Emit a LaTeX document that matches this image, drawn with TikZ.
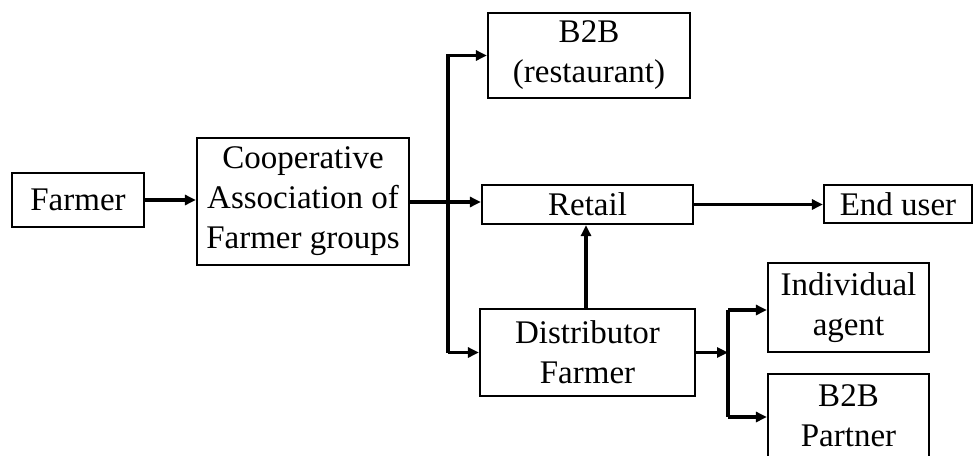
\documentclass[tikz,border=0pt]{standalone}
\usepackage{fontspec}
\setmainfont{Liberation Serif}
\usetikzlibrary{arrows.meta}
\tikzset{
  box/.style={draw=black, line width=2.2pt, rectangle, inner sep=0pt, align=center,
    font=\fontsize{33}{40}\selectfont},
  arr/.style={line width=3.4pt, -{Triangle[length=11pt,width=10pt]}},
  seg/.style={line width=3.4pt}
}
\begin{document}
\begin{tikzpicture}[x=1pt, y=-1pt]
  \useasboundingbox (0,0) rectangle (974,455);
  \begin{scope}
    \clip (0,0) rectangle (974,455);
    % boxes
    \node[box, minimum width=132pt, minimum height=54pt] (farmer) at (78,200) {Farmer};
    \node[box, minimum width=212pt, minimum height=127pt] (coop) at (303,201.5) {Cooperative\\Association of\\Farmer groups};
    \node[box, minimum width=202pt, minimum height=85pt] (b2b) at (589,55.5) {B2B\\(restaurant)};
    \node[box, minimum width=211pt, minimum height=39pt] (retail) at (587.5,204.5) {Retail};
    \node[box, minimum width=148pt, minimum height=38pt] (enduser) at (898,204) {End user};
    \node[box, minimum width=215pt, minimum height=87pt] (dist) at (587.5,352.5) {Distributor\\Farmer};
    \node[box, minimum width=161pt, minimum height=89pt] (indiv) at (848.5,307.5) {Individual\\agent};
    \node[box, minimum width=161pt, minimum height=84pt] (partner) at (848.5,416) {B2B\\Partner};

    % junction points
    \coordinate (trunk) at (448,0);
    \coordinate (fork) at (728,0);
    \coordinate (coopout) at ([yshift=-0.5pt]coop.east);
    \coordinate (upin) at ([xshift=-1.5pt]retail.south);
    \coordinate (upout) at ([xshift=-1.5pt]dist.north);
    \coordinate (indivin) at ([yshift=-2.5pt]indiv.west);
    \coordinate (partnerin) at ([yshift=-1pt]partner.west);

    % connectors
    \draw[arr] (farmer.east) -- (coop.west |- farmer.east);
    \draw[arr] (coopout) -- (retail.west |- coopout);
    \draw[arr] (trunk |- dist.west) -- (trunk |- b2b.west) -- (b2b.west);
    \draw[arr] (trunk |- dist.west) -- (dist.west);
    \draw[arr] (upout) -- (upin);
    \draw[arr] (retail.east) -- (enduser.west |- retail.east);
    \draw[arr] (dist.east) -- (fork |- dist.east);
    \draw[seg] (fork |- indivin) -- (fork |- partnerin);
    \draw[arr] (fork |- indivin) -- (indivin);
    \draw[arr] (fork |- partnerin) -- (partnerin);
  \end{scope}
\end{tikzpicture}
\end{document}
